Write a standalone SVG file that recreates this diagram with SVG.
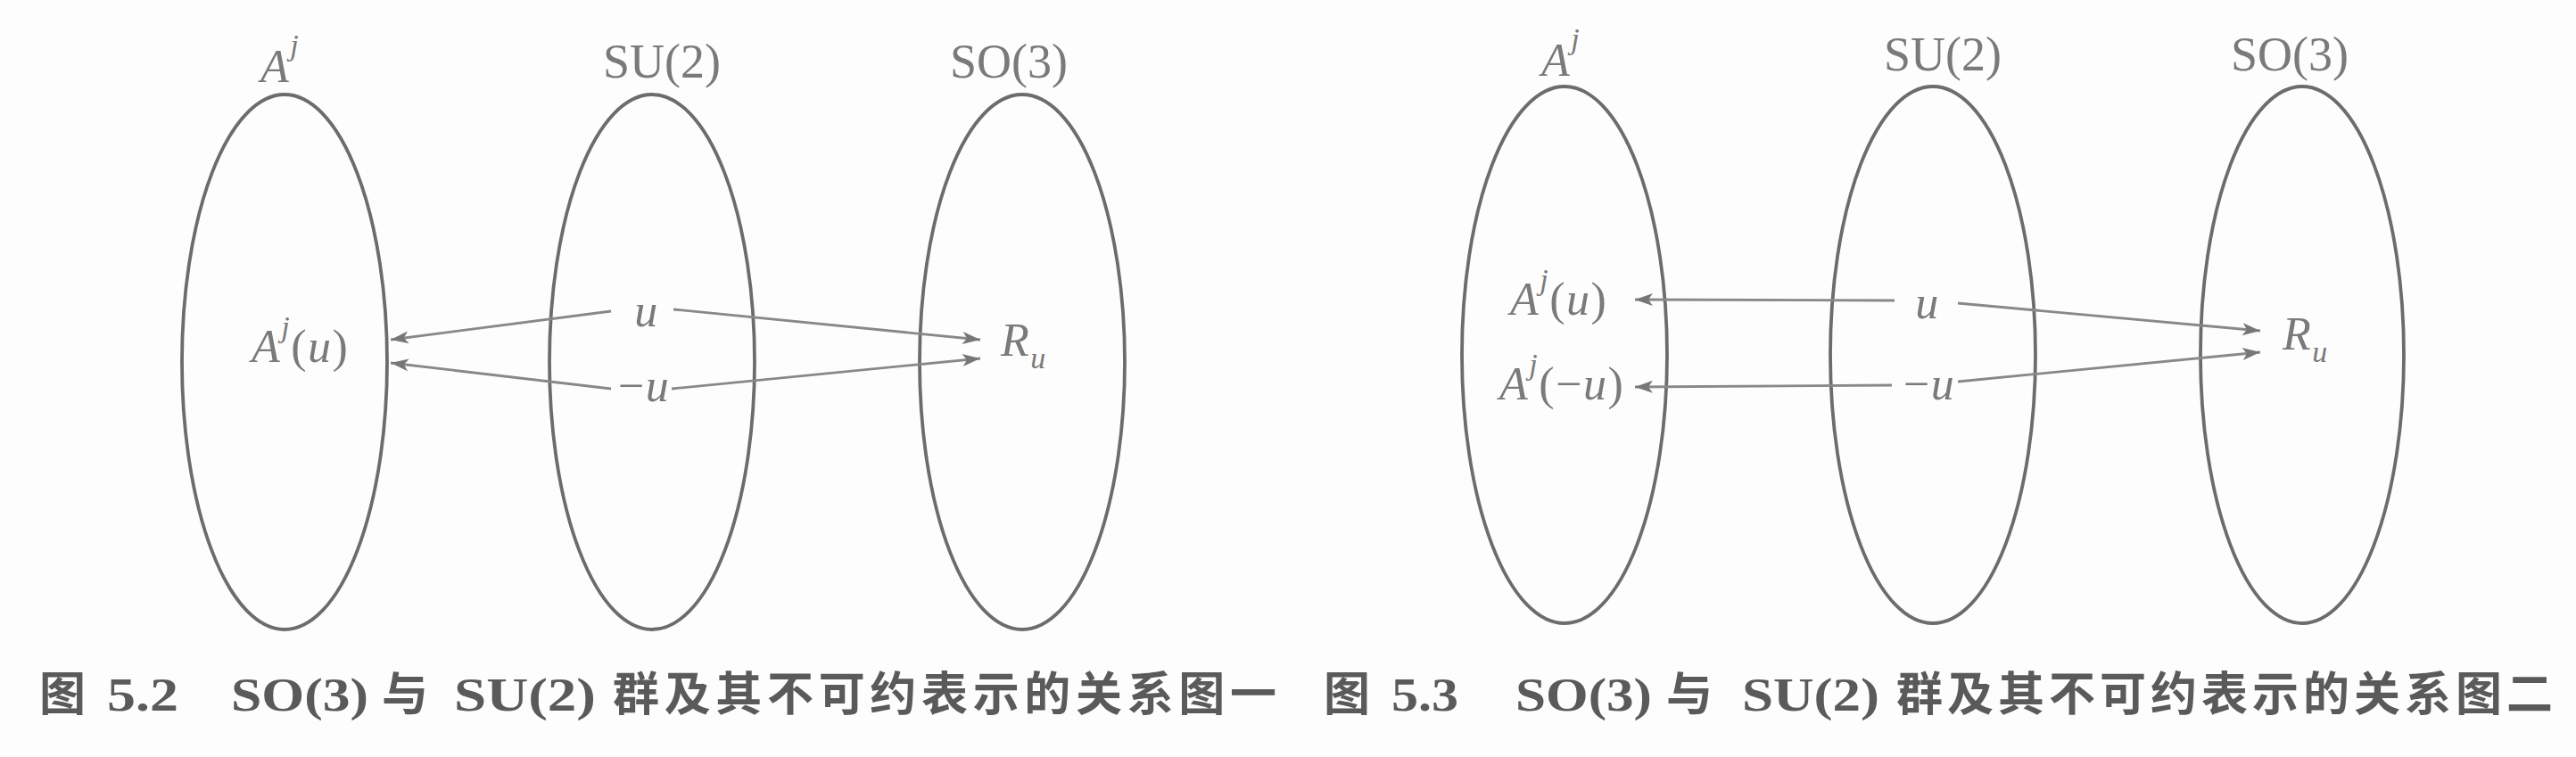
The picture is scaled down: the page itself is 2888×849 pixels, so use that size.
<svg xmlns="http://www.w3.org/2000/svg" width="2888" height="849" viewBox="0 0 2888 849">
<style>
.ell{fill:none;stroke:#6c6c6c;stroke-width:3.8}
.con{fill:none;stroke:#888888;stroke-width:2.8;marker-end:url(#ah)}
.lab{font-family:"Liberation Serif",serif;font-size:54px;fill:#7a7a7a}
.math{font-family:"Liberation Serif",serif;font-style:italic;font-size:52px;fill:#7a7a7a;letter-spacing:1.5px}
.up{font-style:normal}
.sup{font-size:34px}
.cap{font-family:"Liberation Serif","Noto Sans CJK SC",serif;font-weight:bold;font-size:52px;fill:#5a5a5a}
.cjk{font-family:"Noto Sans CJK SC","Liberation Sans",sans-serif;font-weight:bold;font-size:52px;fill:#5a5a5a}
</style>
<defs>
<marker id="ah" markerUnits="userSpaceOnUse" markerWidth="24" markerHeight="16" refX="20" refY="7" orient="auto">
<path d="M0,0 L20,7 L0,14 L5,7 z" fill="#777777"/>
</marker>
</defs>
<rect width="2888" height="849" fill="#fdfdfd"/>

<!-- Figure 5.2 -->
<g id="fig52-Aj">
<ellipse class="ell" cx="319" cy="406" rx="115" ry="300"/>
<text class="math" x="292" y="92" font-size="54">A<tspan class="sup" dy="-30">j</tspan></text>
</g>
<g id="fig52-SU2">
<ellipse class="ell" cx="731" cy="406" rx="115" ry="300"/>
<text class="lab" x="742" y="87" text-anchor="middle">SU(2)</text>
</g>
<g id="fig52-SO3">
<ellipse class="ell" cx="1146" cy="406" rx="115" ry="300"/>
<text class="lab" x="1131" y="87" text-anchor="middle">SO(3)</text>
</g>
<g id="fig52-Aju">
<text class="math" x="282" y="406">A<tspan class="sup" dy="-28">j</tspan><tspan class="up" dy="28">(</tspan>u<tspan class="up">)</tspan></text>
</g>
<g id="fig52-u">
<text class="math" x="725" y="366" text-anchor="middle">u</text>
</g>
<g id="fig52-mu">
<text class="math" x="722" y="450" text-anchor="middle"><tspan class="up">−</tspan>u</text>
</g>
<g id="fig52-Ru">
<text class="math" x="1122" y="399">R<tspan class="sup" dy="14">u</tspan></text>
</g>
<g id="fig52-connectors">
<line class="con" x1="685" y1="349" x2="438" y2="381"/>
<line class="con" x1="685" y1="436" x2="438" y2="407"/>
<line class="con" x1="755" y1="347" x2="1099" y2="381"/>
<line class="con" x1="753" y1="436" x2="1099" y2="402"/>
</g>

<!-- Figure 5.3 -->
<g id="fig53-Aj">
<ellipse class="ell" cx="1754" cy="398" rx="115" ry="301"/>
<text class="math" x="1728" y="85" font-size="54">A<tspan class="sup" dy="-30">j</tspan></text>
</g>
<g id="fig53-SU2">
<ellipse class="ell" cx="2167" cy="398" rx="115" ry="301"/>
<text class="lab" x="2178" y="79" text-anchor="middle">SU(2)</text>
</g>
<g id="fig53-SO3">
<ellipse class="ell" cx="2581" cy="398" rx="114" ry="301"/>
<text class="lab" x="2567" y="79" text-anchor="middle">SO(3)</text>
</g>
<g id="fig53-Aju">
<text class="math" x="1693" y="353">A<tspan class="sup" dy="-28">j</tspan><tspan class="up" dy="28">(</tspan>u<tspan class="up">)</tspan></text>
</g>
<g id="fig53-Ajmu">
<text class="math" x="1681" y="448">A<tspan class="sup" dy="-28">j</tspan><tspan class="up" dy="28">(−</tspan>u<tspan class="up">)</tspan></text>
</g>
<g id="fig53-u">
<text class="math" x="2161" y="357" text-anchor="middle">u</text>
</g>
<g id="fig53-mu">
<text class="math" x="2163" y="448" text-anchor="middle"><tspan class="up">−</tspan>u</text>
</g>
<g id="fig53-Ru">
<text class="math" x="2559" y="392">R<tspan class="sup" dy="14">u</tspan></text>
</g>
<g id="fig53-connectors">
<line class="con" x1="2124" y1="337" x2="1833" y2="336"/>
<line class="con" x1="2121" y1="432" x2="1833" y2="434"/>
<line class="con" x1="2195" y1="340" x2="2534" y2="371"/>
<line class="con" x1="2195" y1="428" x2="2534" y2="395"/>
</g>

<!-- Captions -->
<g id="caption52">
<text class="cjk" x="44" y="797">图</text>
<text class="cap" x="120" y="797" textLength="80" lengthAdjust="spacingAndGlyphs">5.2</text>
<text class="cap" x="259" y="797" textLength="154" lengthAdjust="spacingAndGlyphs">SO(3)</text>
<text class="cjk" x="428" y="797">与</text>
<text class="cap" x="509" y="797" textLength="159" lengthAdjust="spacingAndGlyphs">SU(2)</text>
<text class="cjk" x="687" y="797" textLength="744" lengthAdjust="spacing">群及其不可约表示的关系图一</text>
</g>
<g id="caption53">
<text class="cjk" x="1484" y="797">图</text>
<text class="cap" x="1560" y="797" textLength="75" lengthAdjust="spacingAndGlyphs">5.3</text>
<text class="cap" x="1699" y="797" textLength="153" lengthAdjust="spacingAndGlyphs">SO(3)</text>
<text class="cjk" x="1868" y="797">与</text>
<text class="cap" x="1953" y="797" textLength="154" lengthAdjust="spacingAndGlyphs">SU(2)</text>
<text class="cjk" x="2126" y="797" textLength="736" lengthAdjust="spacing">群及其不可约表示的关系图二</text>
</g>
</svg>
